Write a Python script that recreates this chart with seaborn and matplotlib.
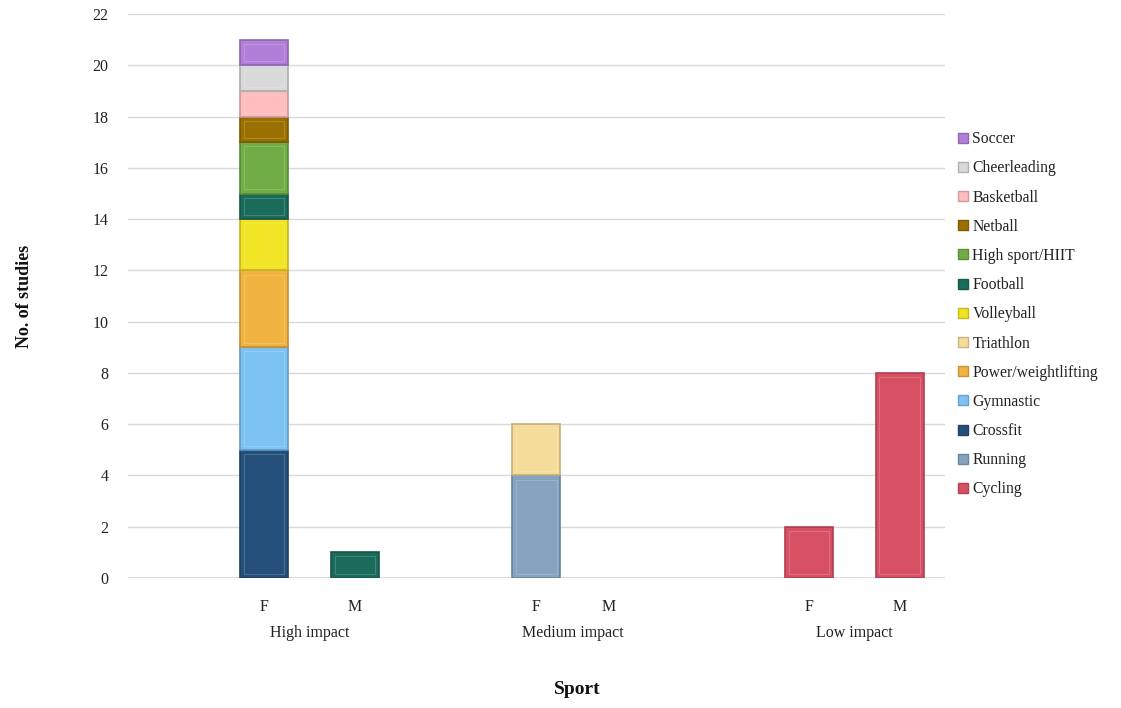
import matplotlib
matplotlib.use("Agg")
import matplotlib.pyplot as plt
import matplotlib.patches as mpatches
import matplotlib.colors as mcolors
import seaborn as sns
import pandas as pd
import numpy as np

# ---- data ----
impacts = ["High impact", "Medium impact", "Low impact"]
genders = ["F", "M"]
sports = ["Soccer", "Cheerleading", "Basketball", "Netball", "High sport/HIIT",
          "Football", "Volleyball", "Triathlon", "Power/weightlifting",
          "Gymnastic", "Crossfit", "Running", "Cycling"]
colors = ["#b17fd9", "#d9d9d9", "#ffbdbf", "#9a7000", "#70ad47",
          "#1b6b5b", "#f0e424", "#f5dc9a", "#f2b440",
          "#7cc3f4", "#244f7a", "#84a4c0", "#d85064"]
# counts per sport for each (impact, gender) column, in order:
# High F, High M, Medium F, Medium M, Low F, Low M
counts = {
    "Soccer":              [1, 0, 0, 0, 0, 0],
    "Cheerleading":        [1, 0, 0, 0, 0, 0],
    "Basketball":          [1, 0, 0, 0, 0, 0],
    "Netball":             [1, 0, 0, 0, 0, 0],
    "High sport/HIIT":     [2, 0, 0, 0, 0, 0],
    "Football":            [1, 1, 0, 0, 0, 0],
    "Volleyball":          [2, 0, 0, 0, 0, 0],
    "Triathlon":           [0, 0, 2, 0, 0, 0],
    "Power/weightlifting": [3, 0, 0, 0, 0, 0],
    "Gymnastic":           [4, 0, 0, 0, 0, 0],
    "Crossfit":            [5, 0, 0, 0, 0, 0],
    "Running":             [0, 0, 4, 0, 0, 0],
    "Cycling":             [0, 0, 0, 0, 2, 8],
}

# ---- build long table ----
rows = []
for s in sports:
    for k, v in enumerate(counts[s]):
        g_idx, s_idx = divmod(k, 2)
        slot = 1 + 3 * g_idx + s_idx
        rows.append({"slot": slot, "sport": s, "n": v,
                     "impact": impacts[g_idx], "gender": genders[s_idx]})
df = pd.DataFrame(rows)
df = df[df["n"] > 0]

sns.set_theme(style="white")
plt.rcParams["font.family"] = ["Liberation Serif", "DejaVu Serif"]

fig = plt.figure(figsize=(11.21, 7.08), dpi=100)
ax = fig.add_axes([0.114, 0.1836, 0.729, 0.7964])

palette = dict(zip(sports, colors))
sns.histplot(data=df, x="slot", weights="n", hue="sport", hue_order=sports,
             multiple="stack", discrete=True, shrink=0.53, palette=palette,
             alpha=1, edgecolor="none", linewidth=0, legend=False, ax=ax)

# bevel-like edges: darker outline plus a subtle lighter inner highlight
bars = [p for p in ax.patches if p.get_height() > 0]
for p in bars:
    fc = np.array(mcolors.to_rgb(p.get_facecolor()))
    p.set_edgecolor(tuple(fc * 0.80))
    p.set_linewidth(1.2)
    x0, y0 = p.get_x(), p.get_y()
    w, h = p.get_width(), p.get_height()
    inset_x = w * 0.08
    inset_y = 0.16
    light = tuple(np.clip(fc + (1 - fc) * 0.18, 0, 1))
    ax.add_patch(mpatches.Rectangle((x0 + inset_x, y0 + inset_y),
                                    w - 2 * inset_x, h - 2 * inset_y,
                                    facecolor=tuple(fc), edgecolor=light,
                                    linewidth=0.7, zorder=p.get_zorder() + 0.1))

ax.set_xlim(-0.5, 8.5)
ax.set_ylim(0, 22)
ax.set_yticks(np.arange(0, 23, 2))
ax.yaxis.grid(True, color="#d9d9d9", linewidth=1)
ax.xaxis.grid(False)
ax.set_axisbelow(True)
for sp in ax.spines.values():
    sp.set_visible(False)
ax.axhline(0, color="#d9d9d9", linewidth=1.2, zorder=0)

tick_pos = [1, 2, 4, 4.8, 7, 8]
ax.set_xticks(tick_pos)
ax.set_xticklabels(genders * 3)
ax.tick_params(axis="x", length=0, pad=15, labelsize=11.5, colors="#222222")
ax.tick_params(axis="y", length=0, pad=14, labelsize=11.5, colors="#222222")
ax.set_xlabel("")
ax.set_ylabel("No. of studies", fontsize=13, fontweight="bold", labelpad=43,
              color="#111111")

for i, lab in enumerate(impacts):
    ax.text(1.5 + 3 * i - (0.1 if i == 1 else 0), -2.13, lab, ha="center",
            va="center", fontsize=11.5, color="#222222",
            transform=ax.transData, clip_on=False)

fig.text(577 / 1121, 1 - 689 / 708, "Sport", ha="center", va="center",
         fontsize=14, fontweight="bold", color="#111111")

handles = [mpatches.Patch(facecolor=palette[s],
                          edgecolor=tuple(np.array(mcolors.to_rgb(palette[s])) * 0.82),
                          label=s) for s in sports]
leg = fig.legend(handles=handles, loc="upper left",
                 bbox_to_anchor=(952 / 1121, 1 - 125 / 708),
                 frameon=False, fontsize=11.3, handlelength=0.6,
                 handleheight=0.6, handletextpad=0.3, labelspacing=0.84,
                 borderaxespad=0)
for t in leg.get_texts():
    t.set_color("#222222")

fig.savefig("out.png", dpi=100)
